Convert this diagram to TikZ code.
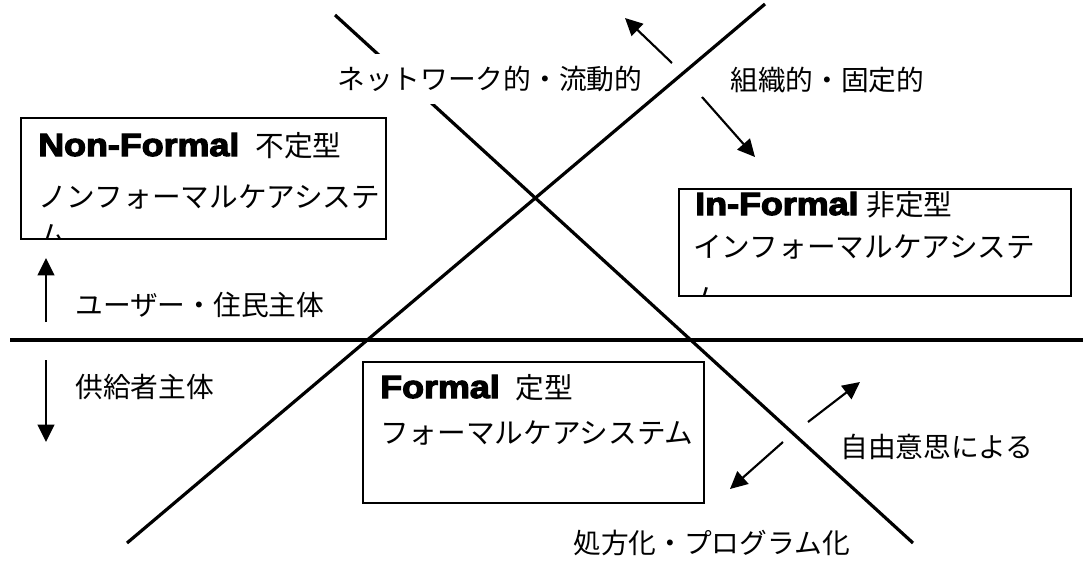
\documentclass[tikz,border=0pt]{standalone}
\usepackage{fontspec}
\usepackage{graphicx}
\usetikzlibrary{arrows.meta}
\newfontfamily\jp{Noto Sans CJK JP}
\newfontfamily\blk[FakeBold=3.5]{Liberation Sans Bold}
\newcommand\hdtxt[1]{\scalebox{1.12}[1]{\fontsize{24pt}{28pt}\selectfont\blk #1}}
\tikzset{
  mainline/.style={line width=2.4pt},
  boxframe/.style={draw, line width=1.3pt, inner sep=0pt, anchor=north west},
  jtxt/.style={inner sep=0pt, anchor=west, font=\jp\fontsize{20.8pt}{25pt}\selectfont},
  btxt/.style={inner sep=0pt, anchor=base west, font=\jp\fontsize{21.5pt}{26pt}\selectfont},
  arr/.style={line width=1.6pt, -{Triangle[length=13pt,width=12.5pt]}}
}
\begin{document}
\begin{tikzpicture}[x=0.75pt,y=-0.75pt]
\useasboundingbox (0,0) rectangle (1083,561);
% main lines
\coordinate (a1) at (335,15);
\coordinate (a2) at (913,543);
\coordinate (b1) at (765,4);
\coordinate (b2) at (127,543);
\coordinate (h1) at (10,340);
\coordinate (h2) at (1083,340);
\draw[mainline] (a1) -- (a2);
\draw[mainline] (b1) -- (b2);
\draw[mainline] (h1) -- (h2);

% labels
\node[jtxt, fill=white, minimum height=37pt] (net) at (337,79) {ネットワーク的・流動的};
\node[jtxt] (org) at (730,80) {組織的・固定的};
\node[jtxt] (user) at (75,305) {ユーザー・住民主体};
\node[jtxt] (supp) at (75,387) {供給者主体};
\node[jtxt] (free) at (840,447) {自由意思による};
\node[jtxt] (presc) at (573,543) {処方化・プログラム化};

% boxes
\node[boxframe, minimum width=273.75pt, minimum height=90.75pt] (nfbox) at (20,117) {};
\node[boxframe, minimum width=294pt, minimum height=80.25pt] (ifbox) at (678,188) {};
\node[boxframe, minimum width=255.75pt, minimum height=105.75pt] (fbox) at (362,361) {};

\begin{scope}
\clip (nfbox.south west) rectangle (nfbox.north east);
\node[btxt] (nfh) at (38,156) {\hdtxt{Non-Formal}\hspace{12pt}不定型};
\node[btxt] (nf2) at (38,207) {ノンフォーマルケアシステ};
\node[btxt] (nf3) at (38,246) {ム};
\end{scope}

\begin{scope}
\clip (ifbox.south west) rectangle (ifbox.north east);
\node[btxt] (ifh) at (695,215) {\hdtxt{In-Formal}\hspace{6pt}非定型};
\node[btxt] (if2) at (693,257) {インフォーマルケアシステ};
\node[btxt] (if3) at (693,309) {ム};
\end{scope}

\node[btxt] (fh) at (380,398) {\hdtxt{Formal}\hspace{12pt}定型};
\node[btxt] (f2) at (380,443) {フォーマルケアシステム};

% arrows
\coordinate (u1) at (46,322); \coordinate (u2) at (46,258);
\coordinate (d1) at (46,360); \coordinate (d2) at (46,442);
\coordinate (nw1) at (672,63); \coordinate (nw2) at (625,18);
\coordinate (se1) at (702,97); \coordinate (se2) at (755,157);
\coordinate (ne1) at (808,422); \coordinate (ne2) at (860,382);
\coordinate (sw1) at (783,442); \coordinate (sw2) at (730,489);
\draw[arr] (u1) -- (u2);
\draw[arr] (d1) -- (d2);
\draw[arr] (nw1) -- (nw2);
\draw[arr] (se1) -- (se2);
\draw[arr] (ne1) -- (ne2);
\draw[arr] (sw1) -- (sw2);
\end{tikzpicture}
\end{document}
